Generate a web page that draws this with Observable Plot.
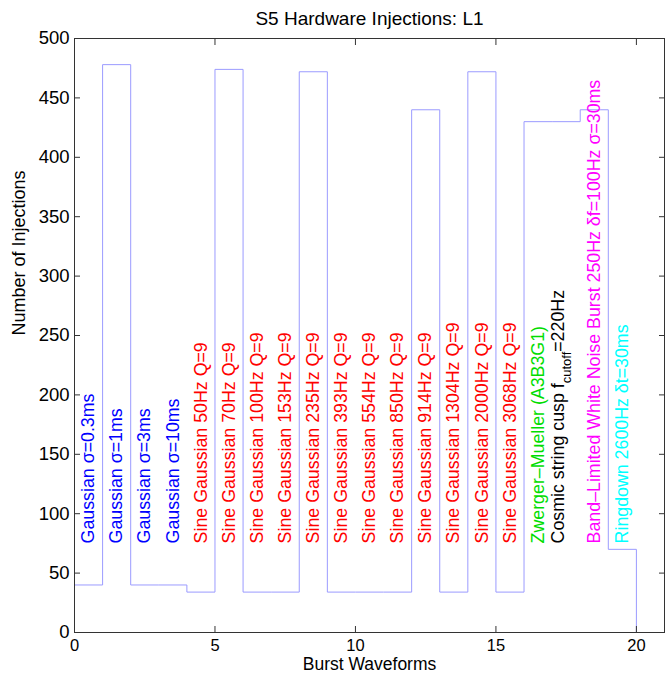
<!DOCTYPE html>
<html>
<head>
<meta charset="utf-8">
<script src="https://cdn.jsdelivr.net/npm/d3@7"></script>
<script src="https://cdn.jsdelivr.net/npm/@observablehq/plot@0.6"></script>
<style>
  html, body { margin: 0; padding: 0; background: #fff; }
  #chart svg { display: block; }
</style>
</head>
<body>
<div id="chart"></div>
<script>
// Injection counts per burst waveform (one bin per waveform)
const title = "S5 Hardware Injections: L1";
const xLabel = "Burst Waveforms";
const yLabel = "Number of Injections";

const counts = [40, 478, 40, 40, 34, 474, 34, 34, 472, 34, 34, 34, 440, 34, 472, 34, 430, 430, 440, 70];

const waveforms = [
  "Gaussian σ=0.3ms",
  "Gaussian σ=1ms",
  "Gaussian σ=3ms",
  "Gaussian σ=10ms",
  "Sine Gaussian 50Hz Q=9",
  "Sine Gaussian 70Hz Q=9",
  "Sine Gaussian 100Hz Q=9",
  "Sine Gaussian 153Hz Q=9",
  "Sine Gaussian 235Hz Q=9",
  "Sine Gaussian 393Hz Q=9",
  "Sine Gaussian 554Hz Q=9",
  "Sine Gaussian 850Hz Q=9",
  "Sine Gaussian 914Hz Q=9",
  "Sine Gaussian 1304Hz Q=9",
  "Sine Gaussian 2000Hz Q=9",
  "Sine Gaussian 3068Hz Q=9",
  "Zwerger–Mueller (A3B3G1)",
  "Cosmic string cusp f_{cutoff}=220Hz",
  "Band–Limited White Noise Burst 250Hz δf=100Hz σ=30ms",
  "Ringdown 2600Hz δt=30ms"
];

const waveformColors = [
  "#0000ff", "#0000ff", "#0000ff", "#0000ff",
  "#ff0000", "#ff0000", "#ff0000", "#ff0000", "#ff0000", "#ff0000",
  "#ff0000", "#ff0000", "#ff0000", "#ff0000", "#ff0000", "#ff0000",
  "#00dd00", "#000000", "#ff00ff", "#00ffff"
];

const xTicks = [0, 5, 10, 15, 20];
const yTicks = [0, 50, 100, 150, 200, 250, 300, 350, 400, 450, 500];

// Labels sit on a common baseline (in count units)
const labelFloor = 75;

const font = "'Liberation Sans', Arial, Helvetica, sans-serif";
const axisColor = "#333";

// Stair outline: rises from zero at the left edge and falls back to zero at the right
const n = counts.length;
const stairs = [
  {x: 0, y: 0},
  ...counts.map((c, i) => ({x: i, y: c})),
  {x: n, y: counts[n - 1]},
  {x: n, y: 0}
];

const labels = waveforms.map((name, i) => ({name, x: i + 0.5, color: waveformColors[i], sub: name.includes("_{")}));

const labelOpts = {
  x: "x",
  y: () => labelFloor,
  text: "name",
  fill: "color",
  rotate: -90,
  textAnchor: "start",
  lineAnchor: "middle",
  fontSize: 17.8,
  fontFamily: font
};

const chart = Plot.plot({
  width: 666,
  height: 674,
  marginLeft: 74,
  marginRight: 2,
  marginTop: 38,
  marginBottom: 42,
  style: {fontFamily: font, background: "#fff", color: "#000"},
  x: {domain: [0, 21]},
  y: {domain: [0, 500]},
  color: {type: "identity"},
  marks: [
    Plot.line(stairs, {x: "x", y: "y", curve: "step-after", stroke: "#9b9bff", strokeWidth: 1}),
    Plot.text(labels, {...labelOpts, filter: d => !d.sub}),
    Plot.text(labels, {...labelOpts, filter: d => d.sub, dx: -8}),
    Plot.axisX({anchor: "bottom", ticks: xTicks, tickSize: -6, tickPadding: 13, fontSize: 16.5, stroke: axisColor, label: null}),
    Plot.axisX({anchor: "top", ticks: xTicks, tickSize: -6, tickFormat: () => "", stroke: axisColor, label: null}),
    Plot.axisY({anchor: "left", ticks: yTicks, tickSize: -6, tickPadding: 11, fontSize: 18.5, stroke: axisColor, label: null}),
    Plot.axisY({anchor: "right", ticks: yTicks, tickSize: -6, tickFormat: () => "", stroke: axisColor, label: null}),
    Plot.frame({stroke: axisColor}),
    Plot.text([title], {text: d => d, frameAnchor: "top", dy: -20, fontSize: 19, lineAnchor: "middle"}),
    Plot.text([xLabel], {text: d => d, frameAnchor: "bottom", dy: 32.2, fontSize: 17.5, lineAnchor: "middle"}),
    Plot.text([yLabel], {text: d => d, frameAnchor: "left", dx: -55, rotate: -90, fontSize: 18, lineAnchor: "middle"})
  ]
});

// Render "_{...}" as a subscript
d3.select(chart).selectAll("text")
  .filter(function () { return /_\{.*\}/.test(this.textContent); })
  .each(function () {
    const m = this.textContent.match(/^(.*)_\{(.*)\}(.*)$/);
    const t = d3.select(this);
    t.selectAll("*").remove();
    t.text(null);
    t.append("tspan").text(m[1]);
    t.append("tspan").attr("font-size", 13).attr("dy", 7).text(m[2]);
    t.append("tspan").attr("dy", -7).text(m[3]);
  });

document.getElementById("chart").appendChild(chart);
</script>
</body>
</html>
